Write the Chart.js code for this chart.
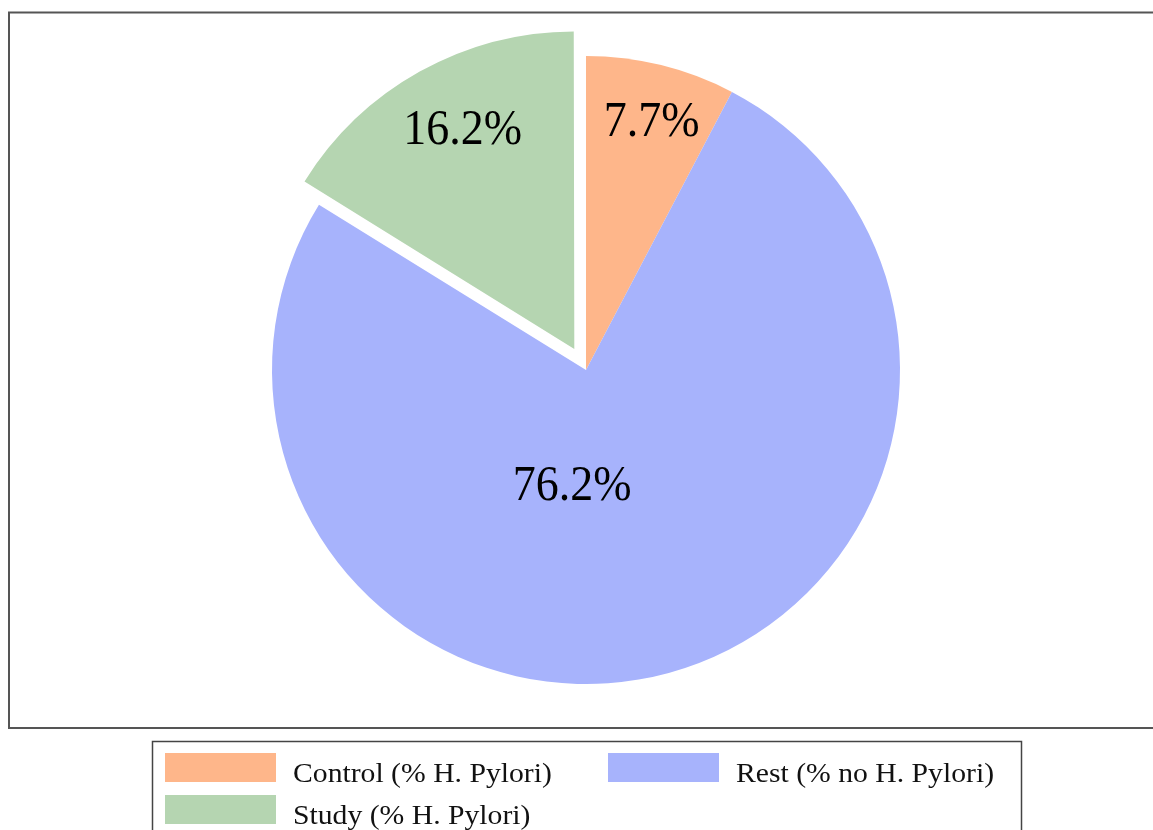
<!DOCTYPE html>
<html>
<head>
<meta charset="utf-8">
<script src="https://cdn.jsdelivr.net/npm/chart.js@4.4.0/dist/chart.umd.min.js"></script>
<style>
  html, body { margin: 0; padding: 0; background: #fff; }
  #wrap { width: 1153px; height: 830px; position: relative; }
</style>
</head>
<body>
<div id="wrap"><canvas id="pie"></canvas></div>
<script>
// slices, clockwise from 12 o'clock
const categories = ['Control (% H. Pylori)', 'Rest (% no H. Pylori)', 'Study (% H. Pylori)'];
const shares = [7.7, 76.2, 16.2];
const sliceColors = ['#FEB68A', '#A7B3FC', '#B5D5B1'];
const explode = [0, 0, 96]; // chart.js moves the slice by offset / 4

// where the percent text sits in each slice: [fraction of radius, angle shift in degrees]
const labelPlace = [[0.815, 1], [0.375, 22], [0.78, 2]];

const SERIF = '"Liberation Serif", "Times New Roman", serif';

const frameBox = {
  id: 'frameBox',
  beforeDraw(chart) {
    const ctx = chart.ctx;
    ctx.save();
    ctx.strokeStyle = '#555';
    ctx.lineWidth = 2;
    ctx.strokeRect(9, 12.5, 1160, 715.5);
    ctx.restore();
  }
};

const pctLabels = {
  id: 'pctLabels',
  afterDatasetsDraw(chart) {
    const ctx = chart.ctx;
    const meta = chart.getDatasetMeta(0);
    ctx.save();
    ctx.fillStyle = '#000';
    ctx.font = '46px ' + SERIF;
    ctx.textAlign = 'center';
    ctx.textBaseline = 'middle';
    meta.data.forEach((arc, i) => {
      const mid = (arc.startAngle + arc.endAngle) / 2;
      const shift = explode[i] / 4;
      const cx = arc.x + Math.cos(mid) * shift;
      const cy = arc.y + Math.sin(mid) * shift;
      const a = mid + labelPlace[i][1] * Math.PI / 180;
      const d = arc.outerRadius * labelPlace[i][0];
      ctx.save();
      ctx.translate(cx + Math.cos(a) * d, cy + Math.sin(a) * d);
      ctx.scale(1, 1.1);
      ctx.fillText(shares[i].toFixed(1) + '%', 0, 0);
      ctx.restore();
    });
    ctx.restore();
  }
};

// boxed legend under the frame: two columns, filled row by row
const boxLegend = {
  id: 'boxLegend',
  afterDraw(chart) {
    const ctx = chart.ctx;
    ctx.save();
    ctx.strokeStyle = '#444';
    ctx.lineWidth = 1.5;
    ctx.strokeRect(152.5, 741.5, 869, 120);
    ctx.font = '28px ' + SERIF;
    ctx.textBaseline = 'alphabetic';
    const colX = [165, 608];
    const rowY = [753, 795];
    categories.forEach((name, i) => {
      const x = colX[i % 2];
      const y = rowY[Math.floor(i / 2)];
      ctx.fillStyle = sliceColors[i];
      ctx.fillRect(x, y, 111, 29);
      ctx.fillStyle = '#111';
      ctx.save();
      ctx.translate(x + 128, y + 29);
      ctx.scale(1.06, 1);
      ctx.fillText(name, 0, 0);
      ctx.restore();
    });
    ctx.restore();
  }
};

new Chart(document.getElementById('pie'), {
  type: 'pie',
  data: {
    labels: categories,
    datasets: [{
      data: shares,
      backgroundColor: sliceColors,
      borderWidth: 0,
      offset: explode,
      hoverOffset: 0
    }]
  },
  options: {
    responsive: true,
    maintainAspectRatio: false,
    animation: false,
    layout: { padding: { left: 20, right: 1, top: 8, bottom: 98 } },
    plugins: {
      legend: { display: false },
      tooltip: { enabled: false }
    }
  },
  plugins: [frameBox, pctLabels, boxLegend]
});
</script>
</body>
</html>
